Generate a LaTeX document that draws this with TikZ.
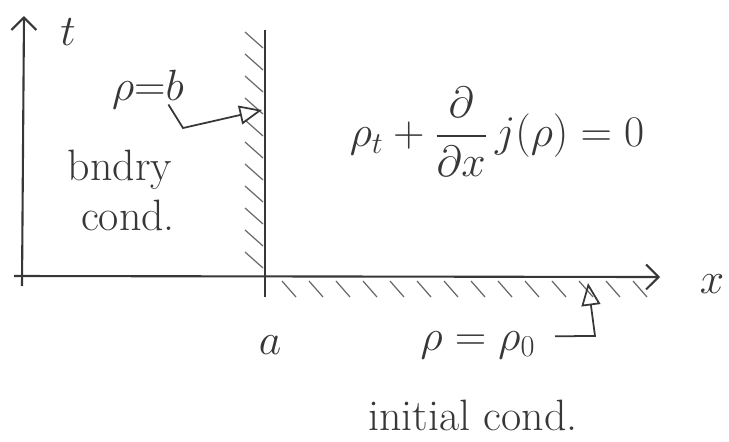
\documentclass[tikz,border=0pt]{standalone}
\usepackage{amsmath}
\usepackage{tikz}
\usetikzlibrary{arrows.meta, positioning, calc}
\definecolor{cPencil}{RGB}{55,55,55}
\tikzset{
	axisline/.style={-{Straight Barb[length=2.5mm, width=5mm]}, line width=1.2pt, draw=cPencil},
	wall/.style={line width=1.5pt, draw=cPencil},
	hatch/.style={line width=0.7pt, draw=cPencil!75},
	pointer/.style={-{Triangle[open, length=4.5mm, width=3.8mm]}, line width=1pt, draw=cPencil},
	hand/.style={text=cPencil, font=\fontsize{25}{30}\selectfont, inner sep=1pt},
}

\begin{document}
\begin{tikzpicture}[x=0.02cm, y=-0.02cm]
	\useasboundingbox (0,0) rectangle (729,441);
	% axes
	\coordinate (tbot) at (22,286);
	\coordinate (ttop) at (24,16);
	\coordinate (xleft) at (14,276);
	\coordinate (xright) at (660,277);
	\draw[axisline] (tbot) -- (ttop);
	\draw[axisline] (xleft) -- (xright);
	\node[hand] (tlab) at (68,32) {$t$};
	\node[hand] (xlab) at (712,284) {$x$};
	% wall at x = a, hatched on the left
	\coordinate (wtop) at (265,30);
	\coordinate (wbot) at (265,297);
	\draw[wall] (wbot) -- (wtop);
	\foreach \y in {32,54,...,252}
		\draw[hatch] (245,\y) -- (263,\y+16);
	% hatching under the x axis
	\foreach \x in {282,309,...,640}
		\draw[hatch] (\x,281) -- (\x+14,297);
	% boundary condition
	\node[hand] (rhob) at (148,90) {$\rho{=}b$};
	\node[hand] (bndry) at (120,170) {bndry};
	\node[hand] (bcond) at (128,215) {cond.};
	\coordinate (bkink) at (183,128);
	\coordinate (bhit) at (262,110);
	\draw[pointer] ([shift={(-10pt,4pt)}]rhob.south east) -- (bkink) -- (bhit);
	% equation
	\node[hand] (pde) at (497,132) {$\rho_t + \dfrac{\partial}{\partial x}\, j(\rho) = 0$};
	% initial condition
	\node[hand] (alab) at (270,345) {$a$};
	\node[hand] (rho0) at (478,345) {$\rho = \rho_0$};
	\node[hand] (icond) at (473,415) {initial cond.};
	\coordinate (ikink) at (595,336);
	\coordinate (ihit) at (588,283);
	\draw[pointer] ([shift={(10pt,5pt)}]rho0.east) -- (ikink) -- (ihit);
\end{tikzpicture}
\end{document}
